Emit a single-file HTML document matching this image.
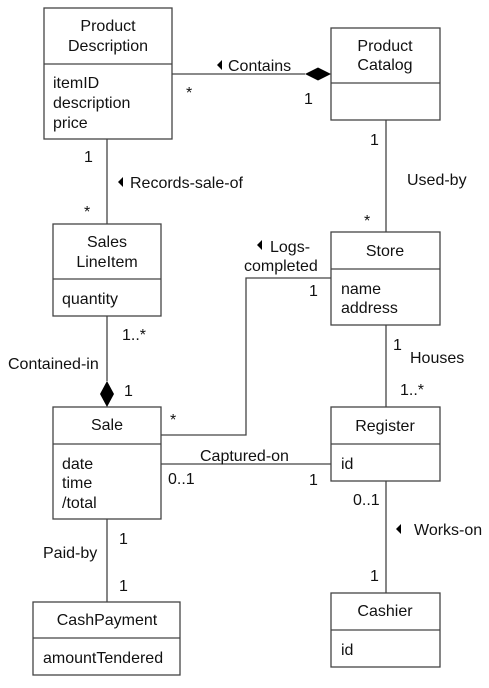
<!DOCTYPE html>
<html><head><meta charset="utf-8"><style>
html,body{margin:0;padding:0;background:#fff;}
svg{display:block;}
text{font-family:"Liberation Sans",Arial,sans-serif;font-size:16px;fill:#111;}
</style></head><body>
<svg width="489" height="688" viewBox="0 0 489 688" xmlns="http://www.w3.org/2000/svg">
<g fill="#fff" stroke="#444" stroke-width="1.3">
<rect x="44" y="8" width="128" height="131"/><line x1="44" y1="64" x2="172" y2="64"/>
<rect x="331" y="28" width="109" height="92"/><line x1="331" y1="83" x2="440" y2="83"/>
<rect x="53" y="224" width="108" height="92"/><line x1="53" y1="279" x2="161" y2="279"/>
<rect x="331" y="232" width="109" height="93"/><line x1="331" y1="269" x2="440" y2="269"/>
<rect x="53" y="407" width="108" height="112"/><line x1="53" y1="444" x2="161" y2="444"/>
<rect x="331" y="407" width="109" height="74"/><line x1="331" y1="444" x2="440" y2="444"/>
<rect x="331" y="593" width="109" height="74"/><line x1="331" y1="630" x2="440" y2="630"/>
<rect x="33" y="602" width="147" height="73"/><line x1="33" y1="638" x2="180" y2="638"/>
</g>
<g stroke="#444" stroke-width="1.3" fill="none">
<line x1="172" y1="74" x2="305" y2="74"/>
<line x1="107" y1="139" x2="107" y2="224"/>
<line x1="386" y1="120" x2="386" y2="232"/>
<polyline points="331,278 246,278 246,435 161,435"/>
<line x1="107" y1="316" x2="107" y2="381"/>
<line x1="161" y1="464" x2="331" y2="464"/>
<line x1="386" y1="325" x2="386" y2="407"/>
<line x1="386" y1="481" x2="386" y2="593"/>
<line x1="107" y1="519" x2="107" y2="602"/>
</g>
<g fill="#000">
<polygon points="305,74 318,67.5 331,74 318,80.5"/>
<polygon points="107,381 114,394 107,407 100,394"/>
<polygon points="217,65 222,60 222,70"/>
<polygon points="118,182 123,177 123,187"/>
<polygon points="257,245 262,240 262,250"/>
<polygon points="396,529 401,524 401,534"/>
</g>
<g text-anchor="middle">
<text x="108" y="31">Product</text><text x="108" y="51">Description</text>
<text x="385" y="51">Product</text><text x="385" y="70">Catalog</text>
<text x="107" y="247">Sales</text><text x="107" y="267">LineItem</text>
<text x="385" y="256">Store</text>
<text x="107" y="430">Sale</text>
<text x="385" y="431">Register</text>
<text x="385" y="616">Cashier</text>
<text x="107" y="625">CashPayment</text>
</g>
<text x="53" y="88">itemID</text><text x="53" y="108">description</text><text x="53" y="128">price</text>
<text x="62" y="304">quantity</text>
<text x="341" y="294">name</text><text x="341" y="313">address</text>
<text x="62" y="469">date</text><text x="62" y="488">time</text><text x="62" y="508">/total</text>
<text x="341" y="469">id</text>
<text x="341" y="655">id</text>
<text x="43" y="663">amountTendered</text>
<text x="228" y="71">Contains</text>
<text x="186" y="98">*</text><text x="304" y="104">1</text>
<text x="84" y="162">1</text><text x="84" y="217">*</text>
<text x="130" y="188">Records-sale-of</text>
<text x="370" y="145">1</text><text x="407" y="185">Used-by</text><text x="364" y="226">*</text>
<text x="270" y="252">Logs-</text><text x="244" y="271">completed</text>
<text x="309" y="296">1</text>
<text x="122" y="340">1..*</text>
<text x="8" y="369">Contained-in</text>
<text x="124" y="396">1</text><text x="170" y="425">*</text>
<text x="200" y="461">Captured-on</text>
<text x="168" y="484">0..1</text><text x="309" y="485">1</text>
<text x="393" y="350">1</text><text x="410" y="363">Houses</text><text x="400" y="395">1..*</text>
<text x="353" y="505">0..1</text><text x="414" y="535">Works-on</text><text x="370" y="581">1</text>
<text x="119" y="544">1</text><text x="43" y="558">Paid-by</text><text x="119" y="591">1</text>
</svg>
</body></html>
